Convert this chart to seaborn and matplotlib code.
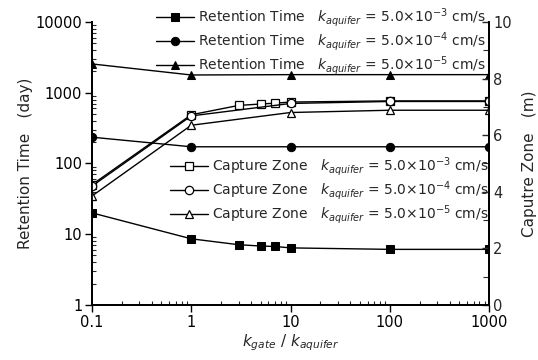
import numpy as np
import pandas as pd
import seaborn as sns
import matplotlib
matplotlib.use("Agg")
import matplotlib.pyplot as plt
from matplotlib.ticker import LogLocator, MultipleLocator, NullFormatter

# ratio k_gate / k_aquifer
x_sq = [0.1, 1, 3, 5, 7, 10, 100, 1000]
x_ct = [0.1, 1, 10, 100, 1000]

# retention time (day), left axis
ret_e3 = [20, 8.6, 7.1, 6.8, 6.7, 6.4, 6.1, 6.1]
ret_e4 = [235, 172, 172, 172, 172]
ret_e5 = [2550, 1780, 1800, 1800, 1800]

# capture zone (m), right axis
cap_e3 = [4.25, 6.72, 7.05, 7.1, 7.13, 7.17, 7.21, 7.21]
cap_e4 = [4.2, 6.68, 7.12, 7.19, 7.19]
cap_e5 = [3.85, 6.35, 6.8, 6.88, 6.88]

kaq = r"$k_{aquifer}$ = 5.0$\times$10$^{%s}$ cm/s"
exps = ["-3", "-4", "-5"]

sns.set_style("ticks")
plt.rcParams['font.family'] = ['DejaVu Sans', 'Noto Sans CJK JP']
plt.rcParams['mathtext.fontset'] = 'dejavusans'

fig = plt.figure(figsize=(5.38, 3.6), dpi=100)
ax = fig.add_axes([0.171, 0.153, 0.738, 0.786])
ax2 = ax.twinx()

ret_sets = [(x_sq, ret_e3, 's'), (x_ct, ret_e4, 'o'), (x_ct, ret_e5, '^')]
cap_sets = [(x_sq, cap_e3, 's'), (x_ct, cap_e4, 'o'), (x_ct, cap_e5, '^')]

h_ret = []
for (xs, ys, m), e in zip(ret_sets, exps):
    df = pd.DataFrame({'ratio': xs, 'value': ys})
    sns.lineplot(data=df, x='ratio', y='value', ax=ax, color='k', lw=1,
                 marker=m, markersize=6, markerfacecolor='k', markeredgecolor='k',
                 label="Retention Time   " + kaq % e, legend=False)
    h_ret.append(ax.lines[-1])

h_cap = []
for (xs, ys, m), e in zip(cap_sets, exps):
    df = pd.DataFrame({'ratio': xs, 'value': ys})
    sns.lineplot(data=df, x='ratio', y='value', ax=ax2, color='k', lw=1,
                 marker=m, markersize=6, markerfacecolor='white', markeredgecolor='k',
                 markeredgewidth=0.9,
                 label="Capture Zone   " + kaq % e, legend=False)
    h_cap.append(ax2.lines[-1])

ax.set_xscale('log')
ax.set_yscale('log')
ax.set_xlim(0.1, 1000)
ax.set_ylim(1, 10000)
ax2.set_ylim(0, 10)

ax.set_xticks([0.1, 1, 10, 100, 1000])
ax.set_xticklabels(['0.1', '1', '10', '100', '1000'])
ax.set_yticks([1, 10, 100, 1000, 10000])
ax.set_yticklabels(['1', '10', '100', '1000', '10000'])
ax.xaxis.set_minor_locator(LogLocator(base=10, subs=np.arange(2, 10)))
ax.yaxis.set_minor_locator(LogLocator(base=10, subs=np.arange(2, 10)))
ax.xaxis.set_minor_formatter(NullFormatter())
ax.yaxis.set_minor_formatter(NullFormatter())
ax2.yaxis.set_major_locator(MultipleLocator(2))
ax2.yaxis.set_minor_locator(MultipleLocator(1))

ax.tick_params(which='major', direction='out', length=5, width=1, labelsize=10.5, colors='k', pad=2)
ax.tick_params(which='minor', direction='in', length=3, width=0.8)
ax2.tick_params(which='major', direction='in', length=5, width=1, labelsize=10.5, pad=3)
ax2.tick_params(which='minor', direction='in', length=4, width=0.8)

for a in (ax, ax2):
    a.spines['top'].set_visible(False)
    for s in ('left', 'right', 'bottom'):
        a.spines[s].set_linewidth(1.3)
        a.spines[s].set_color('k')

ax.set_xlabel(r"$k_{gate}$ / $k_{aquifer}$", fontsize=11, labelpad=2)
ax.set_ylabel("Retention Time\u3000(day)", fontsize=11, labelpad=2)
ax2.set_ylabel("Caputre Zone\u3000(m)", fontsize=11, labelpad=7)

leg_kw = dict(bbox_transform=fig.transFigure, frameon=False, fontsize=10,
              handlelength=2.75, handletextpad=0.25, labelspacing=0.08,
              borderaxespad=0, borderpad=0, numpoints=1)
leg1 = ax2.legend(handles=h_ret, loc='upper right', bbox_to_anchor=(0.902, 0.982), **leg_kw)
ax2.add_artist(leg1)
ax2.legend(handles=h_cap, loc='upper right', bbox_to_anchor=(0.908, 0.568), **leg_kw)

fig.savefig("out.png", dpi=100)
